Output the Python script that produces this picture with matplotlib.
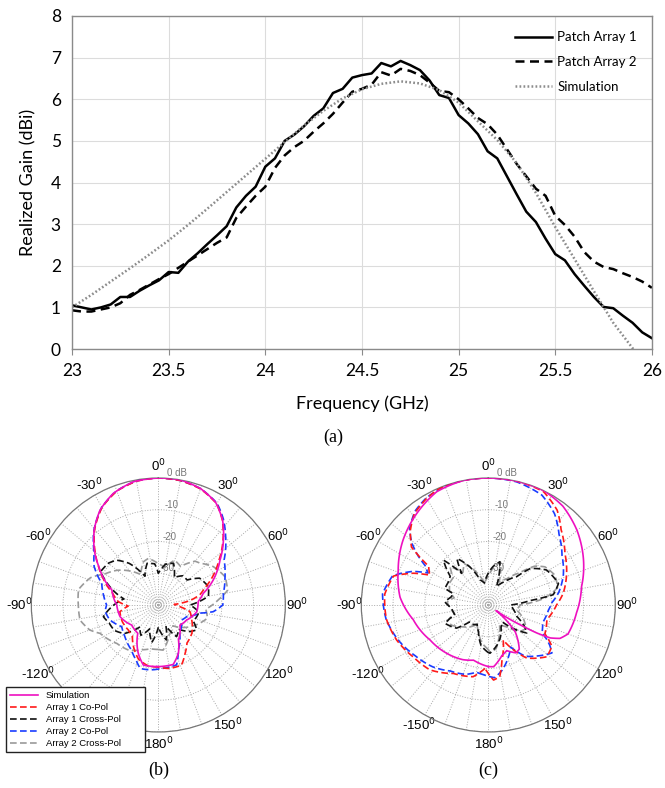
import numpy as np
import matplotlib
matplotlib.use('Agg')
import matplotlib.pyplot as plt
from matplotlib.lines import Line2D

# ---- (a) realized gain vs frequency ----
freq = np.round(np.arange(23.0, 26.001, 0.05), 2)
gain_arr1 = [1.05, 1.00, 0.95, 1.00, 1.07, 1.25, 1.25, 1.40, 1.53, 1.65,
             1.85, 1.83, 2.10, 2.30, 2.52, 2.73, 2.95, 3.40, 3.68, 3.90,
             4.38, 4.58, 5.00, 5.15, 5.35, 5.60, 5.78, 6.15, 6.25, 6.52,
             6.58, 6.62, 6.87, 6.79, 6.92, 6.82, 6.70, 6.45, 6.10, 6.03,
             5.62, 5.42, 5.16, 4.75, 4.58, 4.15, 3.72, 3.30, 3.05, 2.65,
             2.28, 2.13, 1.80, 1.52, 1.25, 1.01, 0.98, 0.80, 0.63, 0.40, 0.26]
gain_arr2 = [0.93, 0.90, 0.90, 0.95, 1.00, 1.10, 1.30, 1.42, 1.55, 1.68,
             1.80, 1.95, 2.10, 2.25, 2.40, 2.55, 2.68, 3.15, 3.42, 3.68,
             3.90, 4.35, 4.65, 4.85, 5.00, 5.22, 5.42, 5.65, 5.92, 6.18,
             6.25, 6.35, 6.65, 6.57, 6.73, 6.68, 6.58, 6.40, 6.20, 6.17,
             6.00, 5.78, 5.55, 5.40, 5.15, 4.80, 4.45, 4.15, 3.85, 3.68,
             3.20, 2.98, 2.70, 2.33, 2.10, 1.97, 1.92, 1.82, 1.73, 1.62, 1.47]
freq_sim = [23.0, 23.1, 23.2, 23.3, 23.4, 23.5, 23.6, 23.7, 23.8, 23.9, 24.0,
            24.1, 24.2, 24.3, 24.4, 24.5, 24.6, 24.7, 24.8, 24.9, 25.0,
            25.1, 25.2, 25.3, 25.4, 25.5, 25.6, 25.7, 25.8, 25.9, 26.0]
gain_sim = [1.00, 1.30, 1.62, 1.94, 2.27, 2.61, 2.98, 3.37, 3.77, 4.17, 4.57,
            4.97, 5.37, 5.72, 6.02, 6.24, 6.37, 6.43, 6.38, 6.22, 5.92,
            5.47, 5.02, 4.47, 3.75, 2.93, 2.16, 1.39, 0.63, 0.02, -0.65]

# ---- (b) / (c) radiation patterns: angle [deg], level [dB] ----
b_sim_deg = [-178.5, -166, -157.5, -144, -127, -107, -90, -72, -64, -57,
             -51, -40.5, -31.5, -22, -11.5, 0, 10, 20, 29, 37,
             45, 54, 65.5, 75.5, 85, 100, 118, 133, 150, 157.5, 166, 180]
b_sim_db = [-20.6, -20.5, -23.5, -29, -29.5, -27.4, -26.9, -24.6, -20.8, -17.6,
            -14.3, -8.9, -4.9, -2.1, -0.4, 0, 0, -1.0, -2.9, -6.4,
            -11.0, -16.0, -21.0, -25.4, -27.4, -27.7, -29.9, -30.7, -27.3, -23.5, -20.7, -20.6]
b_co1_deg = [-180, -170, -160, -150, -140, -130, -115, -100, -92, -85,
             -75, -65, -57, -50, -40, -30, -20, -10, 0, 10,
             20, 30, 37, 45, 54, 62, 70, 76, 82, 88,
             95, 102, 114, 130, 143, 151, 159, 170]
b_co1_db = [-20.4, -20.6, -21.8, -24.5, -27.3, -27.7, -27.5, -27.7, -30.5, -27.3,
            -25.0, -21.0, -17.5, -14.0, -8.8, -4.5, -1.8, -0.4, 0, -0.2,
            -1.1, -3.2, -6.5, -11.2, -16.5, -20.5, -24.5, -26.5, -29.9, -35,
            -33, -29.8, -28.5, -26.2, -25, -22.6, -19.7, -19.7]
b_x1_deg = [-180, -170, -160, -150, -140, -130, -120, -110, -102, -90,
            -80, -70, -60, -50, -43, -35, -25, -15, -5, 0,
            10, 20, 30, 40, 49, 57, 70, 80, 90, 100,
            115, 123, 130, 140, 150, 160, 167]
b_x1_db = [-33, -28, -32, -29, -31, -26, -24, -23.5, -22.3, -26,
           -29, -24, -19, -19.5, -20.7, -24, -30, -26.4, -27, -30,
           -27, -26, -30, -28, -28, -24.5, -23.2, -24, -30, -27,
           -27.8, -25.6, -27, -30, -28.5, -33, -28.7]
b_co2_deg = [-180, -173, -164, -158, -149, -133.5, -120.6, -107, -97, -90,
             -80, -69, -63, -59, -51, -40, -30, -20, -10, 0,
             10, 20, 30, 37, 45, 55.6, 67, 79.8, 90, 97,
             101, 112, 123, 143, 156, 163, 175.5]
b_co2_db = [-19.8, -19.4, -19.2, -21.3, -23.5, -25.5, -26.6, -24.0, -23.1, -23.7,
            -22.5, -20.9, -18.2, -16.4, -14, -8.6, -4.4, -1.7, -0.3, 0,
            -0.2, -1.0, -3.0, -6.0, -10, -14.9, -17.2, -19.2, -19.7, -22.6,
            -26.6, -30.3, -31.3, -28.8, -24.5, -20.3, -20.0]
b_x2_deg = [-180, -170, -160, -147, -133, -116, -110, -101, -90, -79,
            -68, -60, -50, -40, -30, -19, -12, 0, 10, 20,
            30, 40, 45, 55, 67, 78, 85, 95, 105, 115,
            125, 135, 145, 160, 174]
b_x2_db = [-26, -26, -25, -23, -22.2, -19.6, -17, -14.9, -14.8, -14.4,
           -17, -20.5, -23, -26, -29, -25.6, -25, -27, -28, -25,
           -26, -22, -21.4, -18.9, -17.2, -17.7, -21, -25, -24, -26,
           -28, -30, -32, -30, -25.7]

c_sim_deg = [-180, -165, -155, -139, -121, -101, -85, -69, -53, -38,
             -24.5, -11, 0, 13, 26, 37, 50, 65, 79, 95,
             110, 115, 118, 120, 122, 126, 135, 145, 150, 158, 165, 175]
c_sim_db = [-20.6, -22, -21, -19.9, -18.6, -15.9, -12.1, -9.6, -6.3, -3.4,
            -0.8, 0, 0, 0, 0, -1.0, -3.5, -6.9, -10.1, -12.1,
            -13.3, -15.1, -17.9, -22.4, -28.5, -37, -28, -23, -22.6, -24.5, -23.5, -20.5]
c_co1_deg = [-177, -168, -153, -138, -125, -111, -98, -84, -73, -67,
             -63, -57, -55, -53, -46, -39, -30, -22.5, -11, 0,
             13, 26, 36, 44, 56, 68, 81, 90, 104, 117,
             123, 131.5, 142, 144, 157, 166, 171, 176]
c_co1_db = [-20, -16.9, -15.8, -12.5, -11.3, -9.1, -7.6, -7.2, -8.8, -14.4,
            -19.3, -17.6, -13.6, -9.7, -5.9, -3.0, -1.2, -0.2, 0, 0,
            0, -0.3, -3.1, -7, -10.9, -13.4, -16.1, -18.5, -21, -20,
            -16.1, -15.4, -18.7, -19.3, -28, -22.2, -17.1, -16.3]
c_x1_deg = [-180, -170, -160, -150, -140, -132, -126, -113, -106, -95,
            -86, -78, -72, -69, -60, -53, -45, -40, -34, -26,
            -18, -10, 0, 7, 15, 24, 35, 45, 49, 59,
            73, 81, 84, 90, 100, 112, 120, 126, 133, 140,
            150, 160, 168, 174, 178]
c_x1_db = [-25, -27, -31, -33, -32, -32, -27.6, -25.2, -29, -28.4,
           -26.3, -28, -28.4, -25.4, -25.5, -25, -20, -27, -22.3, -26.6,
           -31.7, -33, -30, -27.8, -25.9, -33.7, -31, -27.4, -22.5, -18.6,
           -16.9, -19.3, -26.8, -33, -32, -30.3, -27, -25, -29, -33,
           -32, -29, -27, -25.7, -24.8]
c_co2_deg = [-176, -170, -162, -150, -138, -125, -111, -98, -84, -73,
             -66, -62, -58, -55, -51, -46, -38, -30, -22, -11,
             0, 13, 26, 36, 45, 56, 68, 80, 88, 95,
             108, 117, 123, 127, 137, 144, 152, 160, 168, 175]
c_co2_db = [-18, -18.5, -17, -16, -13.8, -12, -9.5, -7.5, -6.5, -8.5,
            -14, -18.5, -16.5, -13, -9, -5.5, -2.5, -1.0, -0.3, 0,
            0, -0.2, -1.5, -4.5, -8.5, -12, -14.5, -17.5, -20, -21,
            -22, -21, -17, -14.9, -18, -20, -25, -22, -19, -17]
c_x2_deg = [-180, -170, -160, -150, -140, -128, -120, -112, -104, -95,
            -86, -78, -70, -60, -52, -45, -38, -30, -20, -10,
            0, 8, 16, 25, 35, 44, 50, 56, 66, 76,
            83, 90, 100, 112, 122, 130, 140, 150, 160, 170, 178]
c_x2_db = [-26, -28, -31, -33, -31, -29, -27, -26, -29, -28,
           -27, -29, -27, -26, -26, -23, -27, -25, -29, -33,
           -31, -28, -26, -32, -30, -26, -21, -18.5, -17, -17.5,
           -22, -30, -31, -28, -26, -27, -31, -33, -30, -26, -25]

pattern_labels = ['Simulation', 'Array 1 Co-Pol', 'Array 1 Cross-Pol',
                  'Array 2 Co-Pol', 'Array 2 Cross-Pol']
angle_ticks = list(range(0, 360, 10))


def closed(deg, db):
    # close the pattern one full turn later so the last segment stays short
    th = np.deg2rad(np.r_[deg, deg[0] + 360])
    return th, np.r_[db, db[0]]


fig = plt.figure(figsize=(6.65, 7.88), dpi=100)

# ---------------- (a) ----------------
ax = fig.add_axes([0.1083, 0.5571, 0.872, 0.4226])
tfont = 'Lato'
ax.plot(freq, gain_arr1, color='black', lw=1.8, label='Patch Array 1')
ax.plot(freq, gain_arr2, color='black', lw=1.8, linestyle=(0, (3.6, 2.2)), label='Patch Array 2')
ax.plot(freq_sim, gain_sim, color='#8c8c8c', lw=1.8, linestyle=(0, (0.7, 0.9)), label='Simulation')
ax.set_xlim(23, 26)
ax.set_ylim(0, 8)
ax.set_xticks([23, 23.5, 24, 24.5, 25, 25.5, 26])
ax.set_xticklabels(['23', '23.5', '24', '24.5', '25', '25.5', '26'])
ax.set_yticks(range(0, 9))
ax.grid(True, color='#dcdcdc', lw=0.8)
ax.set_axisbelow(True)
for s in ax.spines.values():
    s.set_color('#8a8a8a')
    s.set_linewidth(1.0)
ax.tick_params(axis='y', length=0, pad=8, labelsize=12.5)
ax.tick_params(axis='x', length=4, color='#8a8a8a', pad=6, labelsize=12.5)
for lab in ax.get_xticklabels() + ax.get_yticklabels():
    lab.set_fontfamily(tfont)
ax.set_xlabel('Frequency (GHz)', fontsize=13, fontfamily=tfont, labelpad=12)
ax.set_ylabel('Realized Gain (dBi)', fontsize=13, fontfamily=tfont, labelpad=10)
leg = ax.legend(loc='upper right', frameon=False, handlelength=2.8, handletextpad=0.4,
                labelspacing=0.98, borderaxespad=0.75,
                prop={'family': tfont, 'size': 9.5})
fig.text(333 / 665, 1 - 437 / 788, '(a)', ha='center', va='center',
         fontsize=13, family='Liberation Serif')

# ---------------- (b), (c) ----------------
styles = [dict(color='#ee10c0', lw=1.2, ls='-'),
          dict(color='#ff1a1a', lw=1.2, ls=(0, (4, 2))),
          dict(color='#111111', lw=1.2, ls=(0, (4, 2))),
          dict(color='#1a3cff', lw=1.2, ls=(0, (4, 2))),
          dict(color='#9a9a9a', lw=1.2, ls=(0, (4, 2)))]

panels = [
    (0.0471, [(b_sim_deg, b_sim_db), (b_co1_deg, b_co1_db), (b_x1_deg, b_x1_db),
              (b_co2_deg, b_co2_db), (b_x2_deg, b_x2_db)], '(b)', True),
    (0.5433, [(c_sim_deg, c_sim_db), (c_co1_deg, c_co1_db), (c_x1_deg, c_x1_db),
              (c_co2_deg, c_co2_db), (c_x2_deg, c_x2_db)], '(c)', False),
]

pfont = 'Liberation Sans'
for left, curves, tag, has_legend in panels:
    pax = fig.add_axes([left, 0.0711, 0.382, 0.3223], projection='polar')
    pax.set_theta_zero_location('N')
    pax.set_theta_direction(-1)
    pax.set_ylim(-40, 0)
    order = [4, 2, 3, 1, 0]
    for k, i in enumerate(order):
        th, r = closed(*curves[i])
        ln, = pax.plot(th, r, **styles[i], zorder=3 + k * 0.1)
        # draw segments along the polar grid (arcs) instead of straight chords
        ln.get_path()._interpolation_steps = 12
    tl = []
    for a in angle_ticks:
        v = a if a <= 180 else a - 360
        # the -150 label sits under the legend in panel (b)
        if a % 30 == 0 and not (has_legend and v == -150):
            tl.append('%d$^0$' % v)
        else:
            tl.append('')
    pax.set_thetagrids(angle_ticks, tl, fontsize=9.5, family=pfont)
    pax.tick_params(axis='x', pad=-2)
    pax.set_rgrids([-30, -20, -10, 0], labels=['-30', '-20', '-10', '0 dB'],
                   angle=4, fontsize=7, color='#777777', family=pfont)
    pax.grid(True, color='#a8a8a8', lw=0.7, ls=':')
    pax.spines['polar'].set_color('#777777')
    pax.spines['polar'].set_linewidth(0.9)
    cx = left + 0.382 / 2
    fig.text(cx, 1 - 770 / 788, tag, ha='center', va='center', fontsize=13,
             family='Liberation Serif')

handles = [Line2D([], [], **s) for s in styles]
fig.legend(handles, pattern_labels, loc='lower left', mode='expand',
           bbox_to_anchor=(6 / 665, 1 - 752 / 788, 139 / 665, 70 / 788),
           fancybox=False, edgecolor='#222222', framealpha=1,
           prop={'family': pfont, 'size': 6.8}, handlelength=3.0,
           labelspacing=0.32, borderpad=0.4, borderaxespad=0)

fig.savefig('out.png', dpi=100)
